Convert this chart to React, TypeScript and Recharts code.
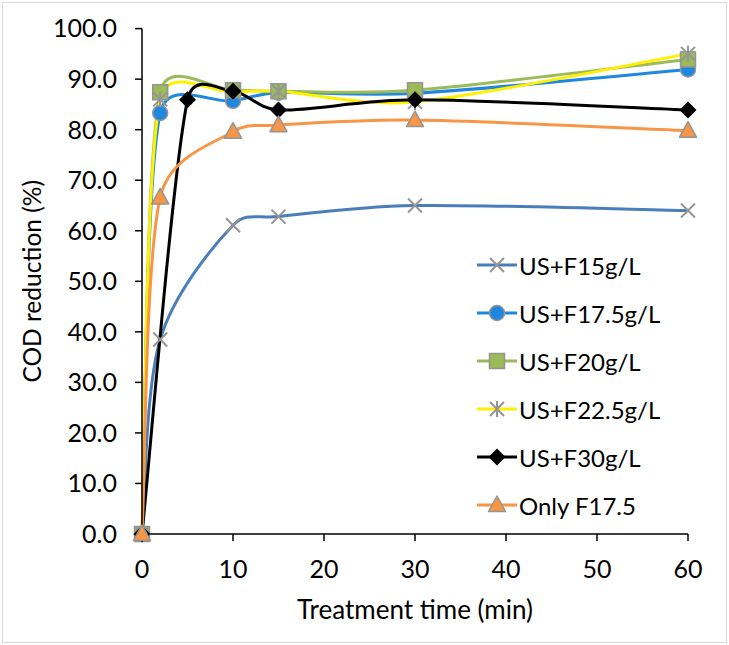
import React from 'react';
import { Line, LineChart, XAxis, YAxis } from 'recharts';

// treatment time (min)
const times = [0, 2, 10, 15, 30, 60];
const timesF30 = [0, 5, 10, 15, 30, 60];

// COD reduction (%)
const usF15 = [0, 38.5, 61.1, 62.8, 65.0, 64.0];
const usF175 = [0, 83.3, 85.7, 87.3, 87.2, 91.9];
const usF20 = [0, 87.4, 87.8, 87.6, 87.8, 93.9];
const usF225 = [0, 86.0, 87.4, 87.6, 85.5, 95.0];
const usF30 = [0, 85.9, 87.6, 83.9, 85.9, 83.9];
const onlyF175 = [0, 66.6, 79.6, 80.9, 81.9, 79.8];

const xTicks = [0, 10, 20, 30, 40, 50, 60];
const yTicks = [0, 10, 20, 30, 40, 50, 60, 70, 80, 90, 100];

const FONT = 'Lato, "Open Sans", sans-serif';
const MARKER_EDGE = '#959595';

type MarkerKind = 'x' | 'circle' | 'square' | 'star' | 'diamond' | 'triangle';

interface SeriesDef {
  name: string;
  xs: number[];
  ys: number[];
  color: string;
  marker: MarkerKind;
  fill: string;
}

const series: SeriesDef[] = [
  { name: 'US+F15g/L', xs: times, ys: usF15, color: '#4a7ebb', marker: 'x', fill: 'none' },
  { name: 'US+F17.5g/L', xs: times, ys: usF175, color: '#1e88e0', marker: 'circle', fill: '#1e88e0' },
  { name: 'US+F20g/L', xs: times, ys: usF20, color: '#9bbb59', marker: 'square', fill: '#9bbb59' },
  { name: 'US+F22.5g/L', xs: times, ys: usF225, color: '#fff000', marker: 'star', fill: 'none' },
  { name: 'US+F30g/L', xs: timesF30, ys: usF30, color: '#000000', marker: 'diamond', fill: '#000000' },
  { name: 'Only F17.5', xs: times, ys: onlyF175, color: '#f79646', marker: 'triangle', fill: '#f79646' },
];

// Excel-like smoothed line (Bezier through points, tangent shortened next to short segments)
const excelCurve = (context: any) => {
  let pts: [number, number][] = [];
  const dist = (a: [number, number], b: [number, number]) =>
    Math.pow(Math.hypot(b[0] - a[0], b[1] - a[1]), 0.65);
  return {
    areaStart() {},
    areaEnd() {},
    lineStart() {
      pts = [];
    },
    point(x: number, y: number) {
      pts.push([+x, +y]);
    },
    lineEnd() {
      const n = pts.length;
      if (n === 0) return;
      context.moveTo(pts[0][0], pts[0][1]);
      for (let i = 0; i < n - 1; i++) {
        const p0 = pts[Math.max(i - 1, 0)];
        const p1 = pts[i];
        const p2 = pts[i + 1];
        const p3 = pts[Math.min(i + 2, n - 1)];
        const d01 = dist(p0, p1);
        const d12 = dist(p1, p2);
        const d23 = dist(p2, p3);
        const s1 = d01 + d12 > 0 ? Math.min(1, (2 * d12) / (d01 + d12)) : 1;
        const s2 = d12 + d23 > 0 ? Math.min(1, (2 * d12) / (d12 + d23)) : 1;
        const c1x = p1[0] + ((p2[0] - p0[0]) * s1) / 6;
        const c1y = p1[1] + ((p2[1] - p0[1]) * s1) / 6;
        const c2x = p2[0] - ((p3[0] - p1[0]) * s2) / 6;
        const c2y = p2[1] - ((p3[1] - p1[1]) * s2) / 6;
        context.bezierCurveTo(c1x, c1y, c2x, c2y, p2[0], p2[1]);
      }
    },
  };
};

function Marker({ kind, cx, cy, fill }: { kind: MarkerKind; cx: number; cy: number; fill: string }) {
  switch (kind) {
    case 'x':
      return (
        <path
          d={`M${cx - 7},${cy - 7}L${cx + 7},${cy + 7}M${cx - 7},${cy + 7}L${cx + 7},${cy - 7}`}
          stroke={MARKER_EDGE}
          strokeWidth={2}
          fill="none"
        />
      );
    case 'star':
      return (
        <path
          d={`M${cx - 7},${cy - 7}L${cx + 7},${cy + 7}M${cx - 7},${cy + 7}L${cx + 7},${cy - 7}M${cx},${cy - 8}L${cx},${cy + 8}`}
          stroke={MARKER_EDGE}
          strokeWidth={2}
          fill="none"
        />
      );
    case 'circle':
      return <circle cx={cx} cy={cy} r={7.5} fill={fill} stroke={MARKER_EDGE} strokeWidth={1.5} />;
    case 'square':
      return (
        <rect x={cx - 7.5} y={cy - 7.5} width={15} height={15} fill={fill} stroke={MARKER_EDGE} strokeWidth={1.5} />
      );
    case 'diamond':
      return <path d={`M${cx},${cy - 8.5}L${cx + 8.5},${cy}L${cx},${cy + 8.5}L${cx - 8.5},${cy}Z`} fill={fill} />;
    case 'triangle':
      return (
        <path
          d={`M${cx},${cy - 9}L${cx + 8.5},${cy + 6.5}L${cx - 8.5},${cy + 6.5}Z`}
          fill={fill}
          stroke={MARKER_EDGE}
          strokeWidth={1.5}
          strokeLinejoin="round"
        />
      );
    default:
      return null;
  }
}

function ChartLegend() {
  return (
    <div
      style={{
        position: 'absolute',
        left: 475,
        top: 241,
        fontFamily: FONT,
        fontSize: 24,
        color: '#000',
      }}
    >
      {series.map((s) => (
        <div key={s.name} style={{ display: 'flex', alignItems: 'center', height: 48 }}>
          <svg width={44} height={24} style={{ overflow: 'visible' }}>
            <line x1={2} y1={12} x2={42} y2={12} stroke={s.color} strokeWidth={3} />
            <Marker kind={s.marker} cx={22} cy={12} fill={s.fill} />
          </svg>
          <span style={{ marginLeft: 0, whiteSpace: 'nowrap' }}>{s.name}</span>
        </div>
      ))}
    </div>
  );
}

export default function App() {
  return (
    <div style={{ position: 'absolute', left: 0, top: 0, width: 729, height: 645, background: '#fff' }}>
      <div
        style={{
          position: 'absolute',
          left: 2,
          top: 2,
          width: 725,
          height: 641,
          boxSizing: 'border-box',
          border: '1px solid #d9d9d9',
        }}
      />
      <LineChart
        width={729}
        height={645}
        margin={{ top: 28.6, right: 41, bottom: 0, left: 0 }}
        style={{ fontFamily: FONT, position: 'absolute', left: 0, top: 0 }}
      >
        <XAxis
          type="number"
          dataKey="t"
          domain={[0, 60]}
          ticks={xTicks}
          allowDuplicatedCategory={false}
          height={111}
          tickSize={7}
          tickMargin={19}
          axisLine={{ stroke: '#000', strokeWidth: 1.5 }}
          tickLine={{ stroke: '#000', strokeWidth: 1.5 }}
          tick={{ fill: '#000', fontSize: 25 }}
          label={{ value: 'Treatment time (min)', position: 'insideBottom', offset: 26, fill: '#000', fontSize: 26 }}
        />
        <YAxis
          type="number"
          domain={[0, 100]}
          ticks={yTicks}
          width={142}
          tickSize={7}
          tickMargin={18}
          tickFormatter={(v: number) => v.toFixed(1)}
          axisLine={{ stroke: '#000', strokeWidth: 1.5 }}
          tickLine={{ stroke: '#000', strokeWidth: 1.5 }}
          tick={{ fill: '#000', fontSize: 25 }}
          label={{
            value: 'COD reduction (%)',
            angle: -90,
            position: 'insideLeft',
            offset: 32,
            fill: '#000',
            fontSize: 24.5,
            style: { textAnchor: 'middle' },
          }}
        />
        {series.map((s) => (
          <Line
            key={s.name}
            data={s.xs.map((t, i) => ({ t, v: s.ys[i] }))}
            dataKey="v"
            name={s.name}
            type={excelCurve as any}
            stroke={s.color}
            strokeWidth={3}
            isAnimationActive={false}
            dot={(p: any) => (
              <Marker key={`${s.name}-${p.index}`} kind={s.marker} cx={p.cx} cy={p.cy} fill={s.fill} />
            )}
            activeDot={false}
          />
        ))}
      </LineChart>
      <ChartLegend />
    </div>
  );
}
